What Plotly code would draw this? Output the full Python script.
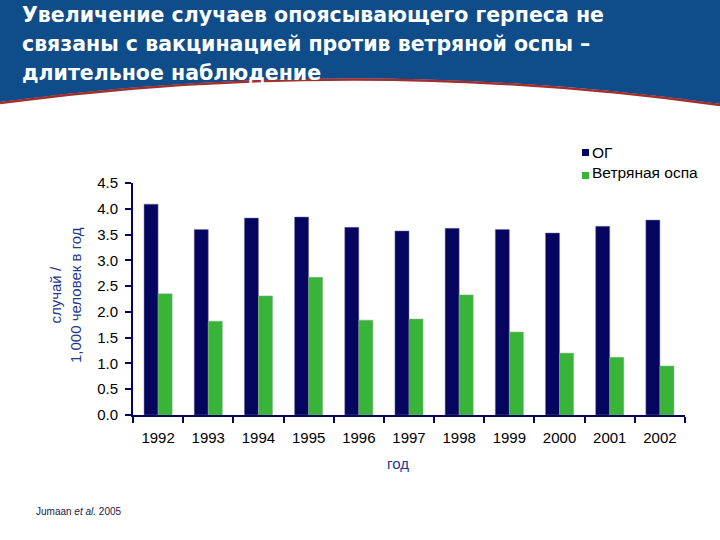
import plotly.graph_objects as go

years = ["1992", "1993", "1994", "1995", "1996", "1997", "1998", "1999", "2000", "2001", "2002"]
hz = [4.09, 3.60, 3.82, 3.84, 3.64, 3.57, 3.62, 3.60, 3.53, 3.66, 3.78]
varicella = [2.35, 1.82, 2.31, 2.67, 1.84, 1.86, 2.33, 1.61, 1.20, 1.12, 0.95]
series_names = ["ОГ", "Ветряная оспа"]
y_ticks = [0, 0.5, 1.0, 1.5, 2.0, 2.5, 3.0, 3.5, 4.0, 4.5]

NAVY = "#05055f"
GREEN = "#38b538"
BLUE_TXT = "#1c3a8c"

W, H = 720, 540
L, R, T, B = 133, 35, 183, 125
pw, ph = W - L - R, H - T - B

def px(x):
    return (x - L) / pw

def py(y):
    return (H - B - y) / ph

fig = go.Figure()
fig.add_trace(go.Bar(x=years, y=hz, name=series_names[0], marker=dict(color=NAVY, line=dict(width=0.5, color="#777799"))))
fig.add_trace(go.Bar(x=years, y=varicella, name=series_names[1], marker=dict(color=GREEN, line=dict(width=0.5, color="#88aa88"))))

shapes = []
# header banner
banner = (f"M {px(0)},{py(0)} L {px(720)},{py(0)} L {px(720)},{py(104)} "
          f"Q {px(360)},{py(54)} {px(0)},{py(102)} Z")
shapes.append(dict(type="path", path=banner, xref="paper", yref="paper",
                   fillcolor="#0e4d8a", line=dict(width=0), layer="below"))
curve = f"M {px(0)},{py(103)} Q {px(360)},{py(55)} {px(720)},{py(105)}"
shapes.append(dict(type="path", path=curve, xref="paper", yref="paper",
                   line=dict(color="#a03030", width=2.5), layer="below"))
# legend squares
shapes.append(dict(type="rect", xref="paper", yref="paper",
                   x0=px(582), x1=px(589), y0=py(156), y1=py(149), fillcolor=NAVY, line=dict(width=0)))
shapes.append(dict(type="rect", xref="paper", yref="paper",
                   x0=px(582), x1=px(589), y0=py(179), y1=py(172), fillcolor=GREEN, line=dict(width=0)))

annotations = []
title_lines = ["Увеличение случаев опоясывающего герпеса не",
               "связаны с вакцинацией против ветряной оспы –",
               "длительное наблюдение"]
for i, line in enumerate(title_lines):
    annotations.append(dict(text=f"<b>{line}</b>", xref="paper", yref="paper",
                            x=px(20), y=py(15 + 29 * i), xanchor="left", yanchor="middle",
                            showarrow=False, font=dict(family="DejaVu Sans", size=20.5, color="white")))
annotations.append(dict(text=series_names[0], xref="paper", yref="paper", x=px(590), y=py(152),
                        xanchor="left", yanchor="middle", showarrow=False,
                        font=dict(family="Liberation Sans, Arial", size=15.5, color="black")))
annotations.append(dict(text=series_names[1], xref="paper", yref="paper", x=px(590), y=py(172),
                        xanchor="left", yanchor="middle", showarrow=False,
                        font=dict(family="Liberation Sans, Arial", size=15.5, color="black")))
annotations.append(dict(text="случай /<br>1,000 человек в год", xref="paper", yref="paper",
                        x=px(65), y=py(295), xanchor="center", yanchor="middle", textangle=-90,
                        showarrow=False, font=dict(family="Liberation Sans, Arial", size=15, color=BLUE_TXT)))
annotations.append(dict(text="год", xref="paper", yref="paper", x=px(398), y=py(463),
                        xanchor="center", yanchor="middle", showarrow=False,
                        font=dict(family="Liberation Sans, Arial", size=15, color=BLUE_TXT)))
annotations.append(dict(text="Jumaan <i>et al.</i> 2005", xref="paper", yref="paper", x=px(34), y=py(511),
                        xanchor="left", yanchor="middle", showarrow=False,
                        font=dict(family="Liberation Sans, Arial", size=10, color="#1a1a4a")))

fig.update_layout(
    width=W, height=H,
    margin=dict(l=L, r=R, t=T, b=B, pad=0),
    paper_bgcolor="white", plot_bgcolor="white",
    barmode="group", bargap=0.44, bargroupgap=0,
    showlegend=False,
    shapes=shapes, annotations=annotations,
    font=dict(family="Liberation Sans, Arial", color="black"),
    xaxis=dict(showline=True, linecolor=NAVY, linewidth=2, ticks="outside", tickson="boundaries",
               ticklen=6, tickcolor=NAVY, tickwidth=1.5, showgrid=False, ticklabelstandoff=8,
               tickfont=dict(size=15, color="black")),
    yaxis=dict(range=[0, 4.5], tickvals=y_ticks, tickformat=".1f", showline=True, linecolor=NAVY,
               linewidth=2, ticks="outside", ticklen=6, tickcolor=NAVY, tickwidth=1.5, showgrid=False,
               zeroline=False, ticklabelstandoff=4, tickfont=dict(size=15, color="black")),
)

fig.write_html("out.html")
